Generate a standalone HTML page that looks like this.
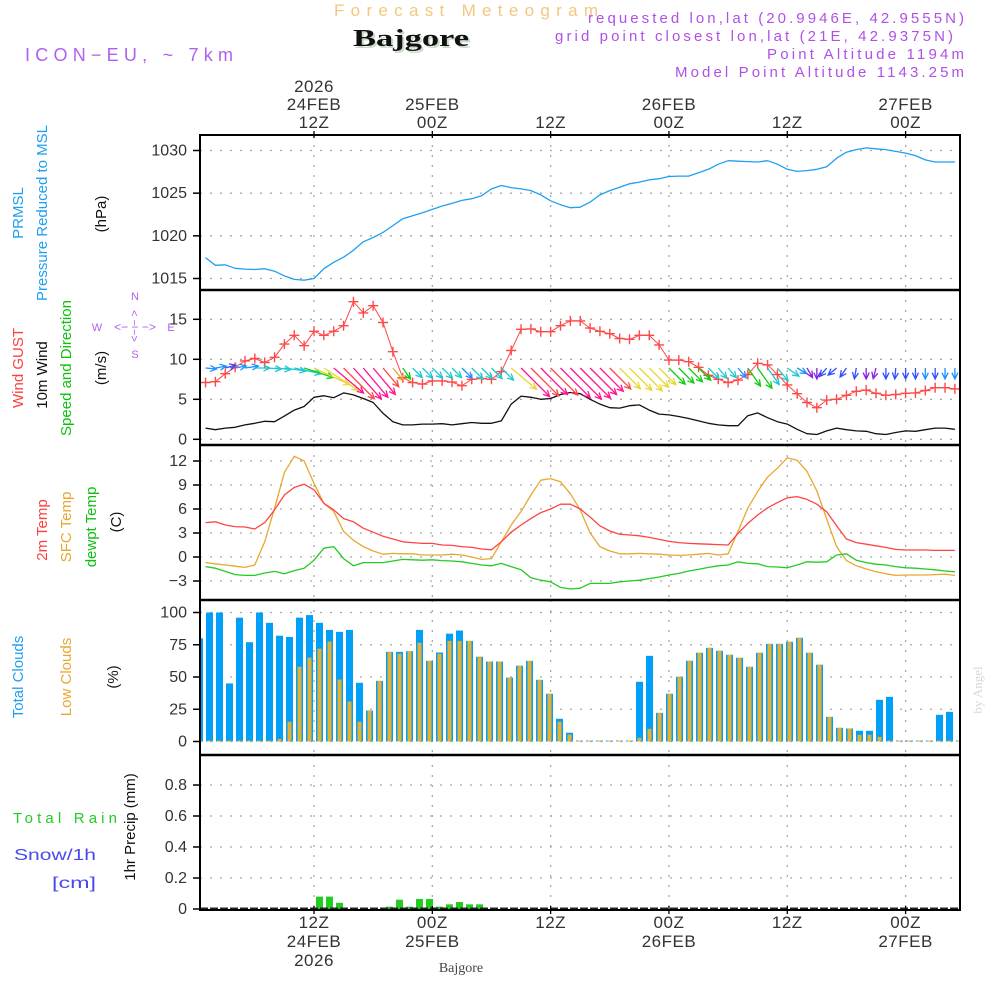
<!DOCTYPE html>
<html><head><meta charset="utf-8"><title>Meteogram Bajgore</title>
<style>
html,body{margin:0;padding:0;background:#fff;}
svg{display:block;font-family:"Liberation Sans","DejaVu Sans",sans-serif;}
</style></head>
<body>
<svg id="chart" width="1000" height="1000" viewBox="0 0 1000 1000" xmlns="http://www.w3.org/2000/svg">
<rect x="0" y="0" width="1000" height="1000" fill="#fff"/>
<!-- headers -->
<text x="334" y="16" font-size="17" fill="#f2c87e" textLength="264" lengthAdjust="spacing">Forecast Meteogram</text>
<text x="355" y="48" font-size="24" font-weight="bold" font-family="Liberation Serif,serif" fill="#c8dcc8" textLength="116" lengthAdjust="spacingAndGlyphs">Bajgore</text>
<text x="353" y="46" font-size="24" font-weight="bold" font-family="Liberation Serif,serif" fill="#111" textLength="116" lengthAdjust="spacingAndGlyphs">Bajgore</text>
<text x="25" y="61" font-size="18" fill="#b060ee" textLength="208" lengthAdjust="spacing">ICON−EU, ~ 7km</text>
<text x="588" y="23" font-size="15" fill="#b050e6" textLength="376" lengthAdjust="spacing">requested lon,lat (20.9946E, 42.9555N)</text>
<text x="555" y="41" font-size="15" fill="#b050e6" textLength="398" lengthAdjust="spacing">grid point closest lon,lat (21E, 42.9375N)</text>
<text x="767" y="59" font-size="15" fill="#b050e6" textLength="197" lengthAdjust="spacing">Point Altitude 1194m</text>
<text x="675" y="77" font-size="15" fill="#b050e6" textLength="289" lengthAdjust="spacing">Model Point Altitude 1143.25m</text>

<!-- left axis titles -->
<g font-size="15" text-anchor="middle">
<text transform="translate(23,213) rotate(-90)" fill="#1ea0f0">PRMSL</text>
<text transform="translate(47,213) rotate(-90)" fill="#1ea0f0">Pressure Reduced to MSL</text>
<text transform="translate(106,214) rotate(-90)" fill="#111">(hPa)</text>
<text transform="translate(23,368) rotate(-90)" fill="#ff4040">Wind GUST</text>
<text transform="translate(47,375) rotate(-90)" fill="#111">10m Wind</text>
<text transform="translate(71,368) rotate(-90)" fill="#10c010">Speed and Direction</text>
<text transform="translate(106,368) rotate(-90)" fill="#111">(m/s)</text>
<text transform="translate(47,530) rotate(-90)" fill="#ff4040">2m Temp</text>
<text transform="translate(71,527) rotate(-90)" fill="#e8a830">SFC Temp</text>
<text transform="translate(96,527) rotate(-90)" fill="#10c010">dewpt Temp</text>
<text transform="translate(121,522) rotate(-90)" fill="#111">(C)</text>
<text transform="translate(23,677) rotate(-90)" fill="#1ea0f0">Total Clouds</text>
<text transform="translate(71,677) rotate(-90)" fill="#e8a830">Low Clouds</text>
<text transform="translate(118,677) rotate(-90)" fill="#111">(%)</text>
<text transform="translate(135,827) rotate(-90)" fill="#111">1hr Precip (mm)</text>
</g>
<text x="13" y="823" font-size="15" fill="#22cc22" textLength="104" lengthAdjust="spacing">Total   Rain</text>
<text x="14" y="860" font-size="16" fill="#4848f0" textLength="82" lengthAdjust="spacingAndGlyphs">Snow/1h</text>
<text x="52" y="888" font-size="16" fill="#4848f0" textLength="44" lengthAdjust="spacingAndGlyphs">[cm]</text>
<!-- compass -->
<g fill="#b060ee" font-size="11" text-anchor="middle">
<text x="97" y="331">W</text><text x="171" y="331">E</text>
<text x="135" y="300">N</text><text x="135" y="358">S</text>
<text x="135" y="331" font-size="12">&lt;− − −&gt;</text>
<text transform="translate(138,326) rotate(-90)" font-size="11">&lt;− − &gt;</text>
</g>
<text transform="translate(982,690) rotate(-90)" font-size="13" font-family="Liberation Serif,serif" fill="#d8d8d8" text-anchor="middle">by Angel</text>
<text x="461" y="972" font-size="14" font-family="Liberation Serif,serif" fill="#444" text-anchor="middle">Bajgore</text>

<g id="grid"></g>
<g id="marks"></g>
<g id="frame"></g>
<g id="labels"></g>
</svg>
<script>
// ---- data (hourly, 24FEB 01Z .. 27FEB 05Z) ----
const timeTickHours = [12, 24, 36, 48, 60, 72];
const timeTickTop = [["2026","24FEB","12Z"],["","25FEB","00Z"],["","","12Z"],["","26FEB","00Z"],["","","12Z"],["","27FEB","00Z"]];
const timeTickBottom = [["12Z","24FEB","2026"],["00Z","25FEB",""],["12Z","",""],["00Z","26FEB",""],["12Z","",""],["00Z","27FEB",""]];
const pressure = [1017.45,1016.55,1016.6,1016.2,1016.1,1016.05,1016.15,1015.85,1015.3,1014.9,
1014.8,1015.0,1016.15,1016.9,1017.5,1018.3,1019.3,1019.8,1020.4,1021.2,
1022.0,1022.35,1022.7,1023.1,1023.5,1023.8,1024.15,1024.35,1024.7,1025.5,
1025.9,1025.65,1025.5,1025.3,1024.8,1024.1,1023.65,1023.3,1023.35,1023.95,
1024.8,1025.3,1025.7,1026.1,1026.3,1026.55,1026.7,1026.95,1027.0,1027.0,
1027.4,1027.8,1028.4,1028.8,1028.75,1028.7,1028.65,1028.8,1028.4,1027.8,
1027.55,1027.65,1027.8,1028.1,1029.1,1029.8,1030.1,1030.3,1030.2,1030.1,
1029.9,1029.7,1029.4,1028.9,1028.65,1028.65,1028.65];
const pressureTicks = [1015, 1020, 1025, 1030];
const gust = [7.1,7.2,8.2,9.0,9.8,10.1,9.6,10.25,11.9,13.0,
11.7,13.5,13.0,13.5,14.2,17.2,15.8,16.7,14.6,10.95,
7.7,7.1,6.9,7.3,7.3,7.15,6.7,7.5,7.6,7.5,
8.45,11.1,13.75,13.8,13.45,13.45,14.2,14.8,14.8,13.9,
13.5,13.2,12.6,12.5,13.0,13.0,11.8,9.9,9.9,9.7,
9.0,8.0,7.5,7.1,7.4,8.1,9.5,9.3,8.1,6.8,
5.7,4.6,3.95,4.9,5.0,5.5,6.0,6.15,5.75,5.5,
5.6,5.75,5.8,6.1,6.45,6.45,6.3];
const windSpeed = [1.4,1.2,1.4,1.5,1.8,2.0,2.25,2.2,2.9,3.65,
4.1,5.25,5.45,5.2,5.8,5.55,5.1,4.6,3.25,2.2,
1.8,1.8,1.9,1.9,1.95,1.8,1.95,2.1,2.0,2.0,
2.3,4.4,5.4,5.25,5.0,5.1,5.6,5.85,5.7,5.0,
4.4,3.95,3.9,4.2,4.3,3.65,3.15,3.05,2.85,2.6,
2.3,2.0,1.8,1.7,1.7,2.95,3.3,2.7,2.2,1.9,
1.25,0.7,0.6,1.05,1.4,1.2,1.05,1.0,0.7,0.6,
0.85,1.05,1.0,1.2,1.4,1.4,1.25];
const windArrowAngle = [5,-10,-15,-10,-8,0,3,5,8,12,
18,25,33,40,45,48,50,50,50,50,
55,45,45,45,45,45,45,45,45,45,
45,40,45,45,45,45,45,45,45,45,
45,45,45,45,45,45,45,45,45,45,
45,45,50,50,50,55,55,55,50,35,
30,60,90,130,140,125,100,90,105,90,
95,90,90,90,90,90,90];
const windArrowColor = ["#1e90ff","#1e90ff","#3050ff","#1e90ff","#1e90ff","#20c8d0","#20c8d0","#20c8d0","#20c8d0","#20c8d0",
"#10cc10","#e8d830","#e8d830","#ff1493","#ff4848","#ff1493","#ff1493","#ff1493","#ff4848","#e8a030",
"#10cc10","#20c8d0","#20c8d0","#20c8d0","#20c8d0","#20c8d0","#1e90ff","#20c8d0","#20c8d0","#20c8d0",
"#20c8d0","#e8d830","#ff1493","#ff4848","#ff1493","#ff4848","#ff1493","#ff1493","#ff1493","#ff1493",
"#ff1493","#ff4848","#e8d830","#e8d830","#e8d830","#e8d830","#e8d830","#10cc10","#10cc10","#10cc10",
"#10cc10","#20c8d0","#20c8d0","#20c8d0","#1e90ff","#10cc10","#10cc10","#20c8d0","#20c8d0","#20c8d0",
"#1e90ff","#8a20e0","#8a20e0","#3050ff","#3050ff","#3050ff","#3050ff","#8a20e0","#8a20e0","#3050ff",
"#3050ff","#3050ff","#3050ff","#1e90ff","#3050ff","#1e90ff","#1e90ff"];
const windTicks = [0, 5, 10, 15];
const temp2m = [4.3,4.4,4.0,3.8,3.75,3.5,4.3,5.9,7.75,8.7,
9.1,8.4,6.7,5.9,4.8,4.4,3.6,3.1,2.6,2.25,
1.9,1.8,1.7,1.7,1.5,1.45,1.3,1.2,1.0,0.9,
1.9,3.1,4.0,4.8,5.55,6.0,6.6,6.6,6.0,5.0,
3.9,3.25,2.85,2.75,2.65,2.45,2.2,1.95,1.8,1.7,
1.65,1.6,1.55,1.5,2.95,4.2,5.25,6.15,6.8,7.4,
7.55,7.2,6.6,5.65,3.9,2.25,1.8,1.6,1.4,1.2,
0.95,0.88,0.88,0.88,0.83,0.83,0.83];
const tempSfc = [-0.7,-0.85,-1.0,-1.15,-1.3,-1.0,1.9,6.1,10.55,12.6,
12.0,9.2,6.7,5.7,3.2,2.1,1.3,0.75,0.35,0.45,
0.4,0.4,0.25,0.25,0.25,0.35,0.25,0.0,-0.3,-0.2,
1.9,4.0,5.7,7.75,9.6,9.8,9.4,7.9,5.9,3.0,
1.3,0.75,0.4,0.4,0.45,0.4,0.35,0.25,0.2,0.25,
0.35,0.45,0.25,0.4,3.2,6.1,8.2,10.0,11.1,12.4,
12.1,10.7,8.25,4.75,1.3,-0.45,-1.1,-1.5,-1.85,-2.1,
-2.3,-2.25,-2.25,-2.25,-2.2,-2.15,-2.3];
const dewPoint = [-1.2,-1.4,-1.8,-2.2,-2.3,-2.3,-2.0,-1.8,-2.1,-1.7,
-1.4,-0.4,1.1,1.3,-0.2,-1.1,-0.7,-0.7,-0.7,-0.5,
-0.3,-0.35,-0.4,-0.35,-0.45,-0.5,-0.6,-0.8,-1.0,-1.1,
-0.8,-1.2,-1.6,-2.6,-2.9,-3.1,-3.8,-4.0,-3.9,-3.3,
-3.3,-3.3,-3.1,-3.0,-2.9,-2.7,-2.5,-2.25,-2.05,-1.75,
-1.55,-1.3,-1.1,-1.0,-0.6,-0.8,-0.85,-1.2,-1.25,-1.35,
-1.0,-0.6,-0.65,-0.6,0.25,0.4,-0.4,-0.7,-0.9,-1.0,
-1.2,-1.35,-1.4,-1.5,-1.6,-1.75,-1.85];
const tempTicks = [-3, 0, 3, 6, 9, 12];
const totalClouds = [80,100,100,45,96,77,100,92,82,81,
96,98,92,86.5,85,86.5,45.5,24,47,69.5,
69.5,70,86.5,62.5,69,83.6,86,78,65.7,62,
62,49.5,58.8,62.5,47.8,37,17.6,6.8,0.5,0.5,
0.5,0.5,0.5,0.5,46.3,66.4,22.2,37,50.2,62.6,
68.8,72.6,70.3,67.2,64.9,57.9,68.8,75.7,75.7,77.3,
80.4,68.8,59.5,19.1,10.6,10.1,8.3,8.3,32.3,34.6,
0.5,0.5,0.5,0.5,20.7,23,0.5];
const lowClouds = [0.5,0.5,0.5,0.5,0.5,0.5,0.5,0.5,2,15.3,
58,65,72,77.6,48,31,15.3,23.8,47,69.5,
68,70,76.6,62.5,68,78,78,78,65.7,62,
62,49.5,58.8,62.5,47.8,37,15.3,5.4,0.5,0.5,
0.5,0.5,0.5,0.5,2.9,9.8,22.2,37,50.2,62.6,
68.8,72.6,70.3,67.2,64.9,57.9,68.8,75.7,75.7,77.3,
80.4,68.8,59.5,19.1,10.6,10.1,5.2,5.2,3.6,0.5,
0.5,0.5,0.5,0.5,0.5,0.5,0.5];
const cloudTicks = [0, 25, 50, 75, 100];
const precip = [0,0,0,0,0,0,0,0,0,0,
0,0,0.08,0.08,0.04,0,0,0,0,0.015,
0.06,0.015,0.065,0.065,0.015,0.03,0.045,0.03,0.03,0,
0,0,0,0,0,0,0,0,0,0,
0,0,0,0,0,0,0,0,0,0,
0,0,0,0,0,0,0,0,0,0,
0,0,0,0,0,0,0,0,0,0,
0,0,0,0,0,0,0];
const precipTicks = [0, 0.2, 0.4, 0.6, 0.8];
const precipTickLabels = ["0","0.2","0.4","0.6","0.8"];

// ---- layout ----
const X0 = 200, X1 = 960;
const NS = "http://www.w3.org/2000/svg";
const gGrid = document.getElementById('grid');
const gMarks = document.getElementById('marks');
const gFrame = document.getElementById('frame');
const gLabels = document.getElementById('labels');
function xT(h){ return 314 + (h - 12) * 9.86; }
function xB(h){ return 199.5 + (h - 1) * 10; }
function lin(v0, y0, v1, y1){ return v => y0 + (v - v0) * (y1 - y0) / (v1 - v0); }
const yP = lin(1015, 278.5, 1030, 150.5);
const yW = lin(0, 439.3, 15, 319.3);
const yTmp = lin(0, 557, 12, 461);
const yC = lin(0, 741.5, 100, 612.5);
const yR = lin(0, 909, 0.8, 785);

function mk(tag, attrs, parent, name){
  const el = document.createElementNS(NS, tag);
  for (const k in attrs) el.setAttribute(k, attrs[k]);
  
  
  parent.appendChild(el);
  return el;
}

const panels = [
  {top:135, bot:290, ticks:pressureTicks, labels:pressureTicks.map(String), y:yP, name:'pressure'},
  {top:290, bot:445, ticks:windTicks, labels:windTicks.map(String), y:yW, name:'wind'},
  {top:445, bot:600, ticks:tempTicks, labels:tempTicks.map(v=>v<0?'−'+(-v):String(v)), y:yTmp, name:'temp'},
  {top:600, bot:755, ticks:cloudTicks, labels:cloudTicks.map(String), y:yC, name:'cloud'},
  {top:755, bot:910, ticks:precipTicks, labels:precipTickLabels, y:yR, name:'precip'}
];

panels.forEach(p => {
  p.ticks.forEach((v, i) => {
    const y = p.y(v);
    mk('line', {x1:X0, x2:X1, y1:y, y2:y, stroke:'#a8a8a8', 'stroke-width':1.3, 'stroke-dasharray':'2,8'}, gGrid, p.name + '-gridline');
    mk('line', {x1:X0-7, x2:X0, y1:y, y2:y, stroke:'#000', 'stroke-width':1.5}, gFrame, p.name + '-ytick');
    const t = mk('text', {x:187, y:y+5, 'font-size':16, 'text-anchor':'end', fill:'#333'}, gLabels, p.name + '-ytick-label');
    t.textContent = p.labels[i];
  });
  timeTickHours.forEach(h => {
    mk('line', {x1:xT(h), x2:xT(h), y1:p.top, y2:p.bot, stroke:'#a8a8a8', 'stroke-width':1.3, 'stroke-dasharray':'2,8'}, gGrid, p.name + '-vgrid');
  });
});

timeTickHours.forEach((h, i) => {
  const x = xT(h);
  mk('line', {x1:x, x2:x, y1:131, y2:138, stroke:'#000', 'stroke-width':1.3}, gFrame, 'top-time-tick');
  mk('line', {x1:x, x2:x, y1:906, y2:914, stroke:'#000', 'stroke-width':1.3}, gFrame, 'bottom-time-tick');
  timeTickTop[i].forEach((s, j) => {
    if (!s) return;
    const t = mk('text', {x:x, y:92 + j*18, 'font-size':17, 'text-anchor':'middle', fill:'#333', 'letter-spacing':'0.5'}, gLabels, 'top-time-label');
    t.textContent = s;
  });
  timeTickBottom[i].forEach((s, j) => {
    if (!s) return;
    const t = mk('text', {x:x, y:928 + j*19, 'font-size':17, 'text-anchor':'middle', fill:'#333', 'letter-spacing':'0.5'}, gLabels, 'bottom-time-label');
    t.textContent = s;
  });
});

function polyline(vals, yf, color, name, w){
  const pts = vals.map((v, i) => xT(i + 1).toFixed(1) + ',' + yf(v).toFixed(1)).join(' ');
  return mk('polyline', {points:pts, fill:'none', stroke:color, 'stroke-width':w || 1.3, 'stroke-linejoin':'round'}, gMarks, name);
}

polyline(pressure, yP, '#1ea0f0', 'pressure-line');

polyline(windSpeed, yW, '#111', 'wind-speed-line');
polyline(gust, yW, '#ff4848', 'gust-line', 1);
gust.forEach((v, i) => {
  const x = xT(i + 1), y = yW(v);
  mk('path', {d:`M${x-5},${y}H${x+5}M${x},${y-5}V${y+5}`, stroke:'#ff4848', 'stroke-width':1.4}, gMarks, 'gust-marker');
});
windSpeed.forEach((s, i) => {
  const x = xT(i + 1), y = 368;
  const L = Math.max(11, s * 7.5);
  const a = windArrowAngle[i] * Math.PI / 180;
  const x2 = x + L * Math.cos(a), y2 = y + L * Math.sin(a);
  const hl = 7, ha = 0.45;
  const b1x = x2 - hl * Math.cos(a - ha), b1y = y2 - hl * Math.sin(a - ha);
  const b2x = x2 - hl * Math.cos(a + ha), b2y = y2 - hl * Math.sin(a + ha);
  mk('path', {d:`M${x},${y}L${x2},${y2}M${b1x},${b1y}L${x2},${y2}L${b2x},${b2y}`, stroke:windArrowColor[i], 'stroke-width':1.3, fill:'none'}, gMarks, 'wind-arrow');
});

polyline(tempSfc, yTmp, '#e8a830', 'sfc-temp-line');
polyline(temp2m, yTmp, '#ff4444', 't2m-line');
polyline(dewPoint, yTmp, '#22cc22', 'dewpoint-line');

totalClouds.forEach((v, i) => {
  const cx = xB(i + 1);
  let x = cx - 3.5, w = 7;
  if (x < X0) { w -= (X0 - x); x = X0; }
  if (x + w > X1) w = X1 - x;
  if (w <= 0) return;
  const y = yC(v);
  mk('rect', {x:x, y:Math.min(y, 740.5), width:w, height:Math.max(1, 741.5 - y), fill:'#00a0f8'}, gMarks, 'total-cloud-bar');
});
lowClouds.forEach((v, i) => {
  const cx = xB(i + 1);
  let x = cx - 2, w = 4;
  if (x < X0) { w -= (X0 - x); x = X0; }
  if (x + w > X1) w = X1 - x;
  if (w <= 0) return;
  const y = yC(v);
  mk('rect', {x:x, y:Math.min(y, 740.5), width:w, height:Math.max(1, 741.5 - y), fill:'#e8b030'}, gMarks, 'low-cloud-bar');
});

precip.forEach((v, i) => {
  if (v <= 0) return;
  const cx = xB(i + 1);
  const y = yR(v);
  mk('rect', {x:cx - 3.5, y:y, width:7, height:909 - y, fill:'#22cc22'}, gMarks, 'precip-bar');
});
mk('line', {x1:X0, x2:X1, y1:908.5, y2:908.5, stroke:'#222', 'stroke-width':2, 'stroke-dasharray':'8,2'}, gMarks, 'precip-baseline');

mk('rect', {x:X0, y:135, width:X1 - X0, height:775, fill:'none', stroke:'#000', 'stroke-width':2}, gFrame, 'plot-frame');
[290, 445, 600, 755].forEach(y => {
  mk('line', {x1:X0, x2:X1, y1:y, y2:y, stroke:'#000', 'stroke-width':2.5}, gFrame, 'panel-separator');
});
</script>
</body></html>
